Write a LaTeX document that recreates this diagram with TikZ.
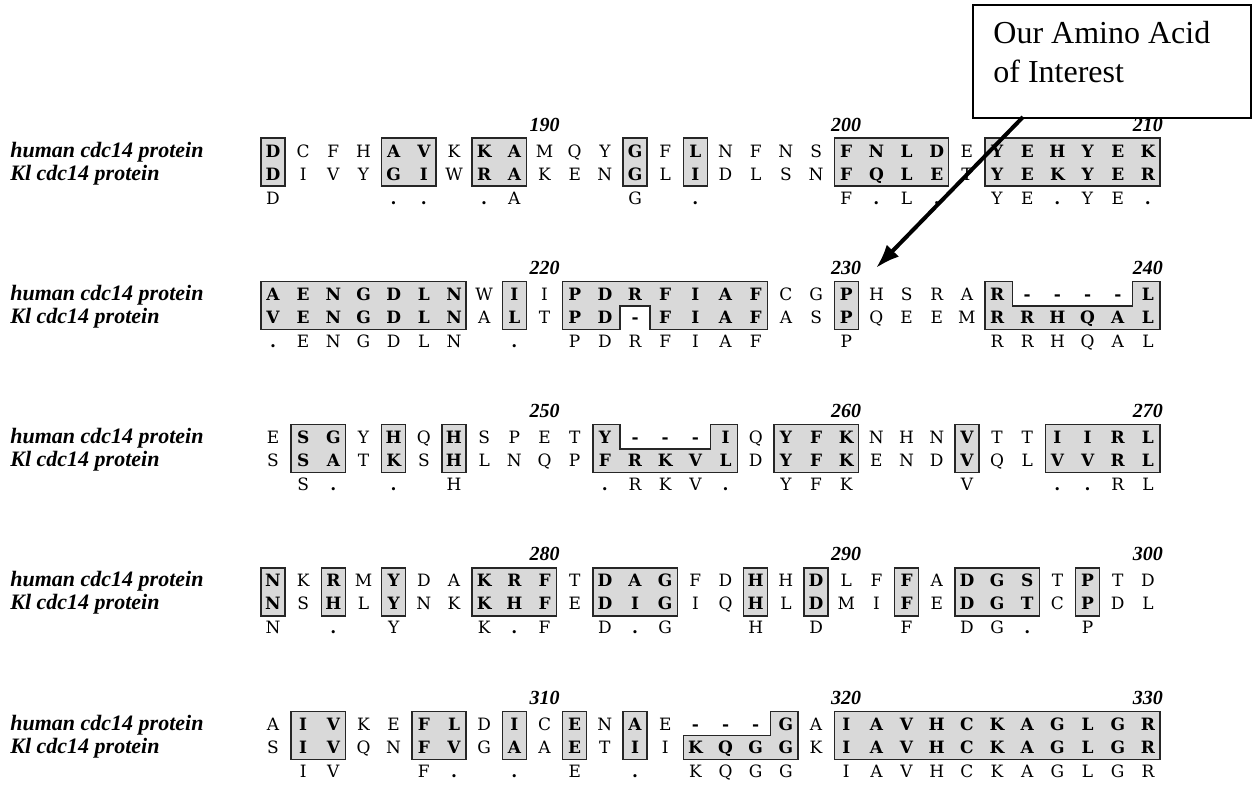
\documentclass[tikz,border=0pt]{standalone}
\usepackage{fontspec}
\setmainfont{Liberation Serif}
\newfontfamily\resfont{DejaVu Serif}
\usetikzlibrary{arrows.meta}
\definecolor{boxgray}{gray}{0.85}
\newcount\rescol
\def\seqrow#1#2#3{\edef\rowy{#1}\edef\rowname{#2}\rescol=0\relax\seqloop#3\relax}
\def\seqloop#1{\ifx#1\relax\else\advance\rescol by 1\relax\seqchar#1\expandafter\seqloop\fi}
\def\seqchar#1{%
  \if0#1\else
    \ifnum`#1>`Z\relax
      \node[res] (\rowname-\the\rescol) at ({273+(\the\rescol-1)*30.17},\rowy) {\uppercase{#1}};%
    \else
      \node[resb] (\rowname-\the\rescol) at ({273+(\the\rescol-1)*30.17},\rowy) {#1};%
    \fi
  \fi}
\newcommand\sqgeom[5]{%
  \pgfmathsetmacro\sqL{273+(#2-1)*30.17-12}%
  \pgfmathsetmacro\sqR{273+(#3-1)*30.17+12}%
  \pgfmathsetmacro\sqT{#1-13}%
  \pgfmathsetmacro\sqB{#1+35}%
  \pgfmathsetmacro\sqM{#1+11.5}%
  \pgfmathsetmacro\sqA{273+(#4-1)*30.17-15}%
  \pgfmathsetmacro\sqZ{273+(#5-1)*30.17+15}}
\newcommand\sqbox[3]{\sqgeom{#1}{#2}{#3}{#2}{#3}%
  \draw[abox] (\sqL,\sqT) rectangle (\sqR,\sqB);}
\newcommand\sqboxnt[5]{\sqgeom{#1}{#2}{#3}{#4}{#5}%
  \draw[abox] (\sqL,\sqT) -- (\sqA,\sqT) -- (\sqA,\sqM) -- (\sqZ,\sqM) -- (\sqZ,\sqT) -- (\sqR,\sqT) -- (\sqR,\sqB) -- (\sqL,\sqB) -- cycle;}
\newcommand\sqboxnb[5]{\sqgeom{#1}{#2}{#3}{#4}{#5}%
  \draw[abox] (\sqL,\sqT) -- (\sqR,\sqT) -- (\sqR,\sqB) -- (\sqZ,\sqB) -- (\sqZ,\sqM) -- (\sqA,\sqM) -- (\sqA,\sqB) -- (\sqL,\sqB) -- cycle;}
\newcommand\sqboxntl[4]{\sqgeom{#1}{#2}{#3}{#2}{#4}%
  \draw[abox] (\sqL,\sqM) -- (\sqZ,\sqM) -- (\sqZ,\sqT) -- (\sqR,\sqT) -- (\sqR,\sqB) -- (\sqL,\sqB) -- cycle;}
\newcommand\seqblock[6]{%
  \pgfmathsetmacro\yh{#2+6}\seqrow{\yh}{#1h}{#3}%
  \pgfmathsetmacro\yk{#2+29}\seqrow{\yk}{#1k}{#4}%
  \pgfmathsetmacro\yc{#2+53}\seqrow{\yc}{#1c}{#5}%
  \pgfmathsetmacro\yn{#2-20}%
  \node[num] (#1n1) at ({273+9*30.17},\yn) {#6};
  \pgfmathtruncatemacro\nb{#6+10}\node[num] (#1n2) at ({273+19*30.17},\yn) {\nb};
  \pgfmathtruncatemacro\nc{#6+20}\node[num] (#1n3) at ({273+29*30.17},\yn) {\nc};
  \node[lab] (#1lh) at (10,\yh) {human cdc14 protein};
  \node[lab] (#1lk) at (10,\yk) {Kl cdc14 protein};}
\begin{document}
\begin{tikzpicture}[x=0.5pt,y=-0.5pt,
  res/.style={font=\resfont\fontsize{8.5}{10}\selectfont, inner sep=0pt, anchor=base},
  resb/.style={font=\resfont\bfseries\fontsize{8.5}{10}\selectfont, inner sep=0pt, anchor=base},
  num/.style={font=\bfseries\itshape\fontsize{10}{12}\selectfont, inner sep=0pt, anchor=base},
  lab/.style={font=\bfseries\itshape\fontsize{11}{13}\selectfont, inner sep=0pt, anchor=base west},
  abox/.style={fill=boxgray, draw=black!85, line width=0.7pt},
  callout/.style={draw=black, line width=0.9pt, fill=white, inner sep=0pt, anchor=north west},
  calltext/.style={font=\fontsize{16}{19}\selectfont, inner sep=0pt, anchor=base west},
  pointer/.style={line width=2pt, -{Latex[length=12pt,width=8.5pt]}}]
\fill[white] (0,0) rectangle (1256,794);
\useasboundingbox (0,0) rectangle (1256,794);
% block 1
\sqbox{151}{1}{1}\sqbox{151}{5}{6}\sqbox{151}{8}{9}\sqbox{151}{13}{13}
\sqbox{151}{15}{15}\sqbox{151}{20}{23}\sqbox{151}{25}{30}
\seqblock{b1}{151}{DcfhAVkKAmqyGfLnfnsFNLDeYEHYEK}{DivyGIwRAkenGlIdlsnFQLEtYEKYER}{d000..0.a000g0.0000f.l.0ye.ye.}{190}
% block 2
\sqbox{294.3}{1}{7}\sqbox{294.3}{9}{9}\sqboxnb{294.3}{11}{17}{13}{13}
\sqbox{294.3}{20}{20}\sqboxnt{294.3}{25}{30}{26}{29}
\seqblock{b2}{294.3}{AENGDLNwIiPDRFIAFcgPhsraR----L}{VENGDLNaLtPD-FIAFasPqeemRRHQAL}{.engdln0.0pdrfiaf00p0000rrhqal}{220}
% block 3
\sqbox{437.6}{2}{3}\sqbox{437.6}{5}{5}\sqbox{437.6}{7}{7}\sqboxnt{437.6}{12}{16}{13}{15}
\sqbox{437.6}{18}{20}\sqbox{437.6}{24}{24}\sqbox{437.6}{27}{30}
\seqblock{b3}{437.6}{eSGyHqHspetY---IqYFKnhnVttIIRL}{sSAtKsHlnqpFRKVLdYFKendVqlVVRL}{0s.0.0h0000.rkv.0yfk000v00..rl}{250}
% block 4
\sqbox{580.9}{1}{1}\sqbox{580.9}{3}{3}\sqbox{580.9}{5}{5}\sqbox{580.9}{8}{10}
\sqbox{580.9}{12}{14}\sqbox{580.9}{17}{17}\sqbox{580.9}{19}{19}\sqbox{580.9}{22}{22}
\sqbox{580.9}{24}{26}\sqbox{580.9}{28}{28}
\seqblock{b4}{580.9}{NkRmYdaKRFtDAGfdHhDlfFaDGStPtd}{NsHlYnkKHFeDIGiqHlDmiFeDGTcPdl}{n0.0y00k.f0d.g00h0d00f0dg.0p00}{280}
% block 5
\sqbox{724.2}{2}{3}\sqbox{724.2}{6}{7}\sqbox{724.2}{9}{9}\sqbox{724.2}{11}{11}
\sqbox{724.2}{13}{13}\sqboxntl{724.2}{15}{18}{17}\sqbox{724.2}{20}{30}
\seqblock{b5}{724.2}{aIVkeFLdIcEnAe---GaIAVHCKAGLGR}{sIVqnFVgAaEtIiKQGGkIAVHCKAGLGR}{0iv00f.0.0e0.0kqgg0iavhckaglgr}{310}
% callout
\node[callout, minimum width=139pt, minimum height=56.5pt] (box) at (972,4) {};
\node[calltext] (t1) at (993,43) {Our Amino Acid};
\node[calltext] (t2) at (993,82) {of Interest};
\coordinate (astart) at (1023,117);
\coordinate (tip) at (876,268);
\draw[pointer] (astart) -- (tip);
\end{tikzpicture}
\end{document}
